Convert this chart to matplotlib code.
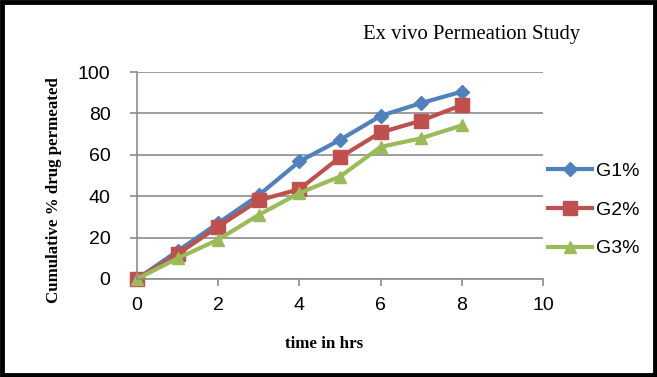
import matplotlib.pyplot as plt
from matplotlib.ticker import MultipleLocator

# data
hours = [0, 1, 2, 3, 4, 5, 6, 7, 8]
g1 = [0, 13.5, 27, 40.5, 56.8, 67.2, 78.8, 85, 90.5]
g2 = [0, 12, 25.3, 38, 43.4, 58.8, 70.8, 76.5, 84]
g3 = [0, 10, 19, 31, 41.5, 49.5, 63.8, 68, 74.2]
labels = ["G1%", "G2%", "G3%"]

colors = ['#4F81BD', '#C0504D', '#9BBB59']
markers = ['D', 's', '^']
msizes = [7, 10, 9]

fig = plt.figure(figsize=(6.57, 3.77), dpi=100)
ax = fig.add_axes([0.2085, 0.26, 0.618, 0.549])

for y, lab, c, m, ms in zip([g1, g2, g3], labels, colors, markers, msizes):
    ax.plot(hours, y, label=lab, color=c, linewidth=3, marker=m, markersize=ms,
            clip_on=False)

ax.set_xlim(0, 10)
ax.set_ylim(0, 100)
ax.xaxis.set_major_locator(MultipleLocator(2))
ax.yaxis.set_major_locator(MultipleLocator(20))
ax.grid(axis='y', color='#8c8c8c', linewidth=1.2)
ax.set_axisbelow(True)
for s in ['top', 'right']:
    ax.spines[s].set_visible(False)
for s in ['left', 'bottom']:
    ax.spines[s].set_color('#8c8c8c')
    ax.spines[s].set_linewidth(1.2)
ax.tick_params(axis='x', direction='out', length=5, color='#8c8c8c', width=1.2,
               labelsize=14, pad=8)
ax.tick_params(axis='y', direction='out', length=5, color='#8c8c8c', width=1.2,
               labelsize=14, pad=14)
for t in ax.get_xticklabels() + ax.get_yticklabels():
    t.set_fontfamily('Liberation Sans')

fig.text(0.493, 0.0875, 'time in hrs', fontfamily='Liberation Serif',
         fontweight='bold', fontsize=12.2, ha='center', va='center')
fig.text(0.082, 0.496, 'Cumulative % drug permeated', fontfamily='Liberation Serif',
         fontweight='bold', fontsize=12.2, ha='center', va='center', rotation=90)
fig.text(0.717, 0.908, 'Ex vivo Permeation Study', fontfamily='Liberation Serif',
         fontsize=14.9, ha='center', va='center')

leg = ax.legend(loc='center left', bbox_to_anchor=(548 / 657, 0.443),
                bbox_transform=fig.transFigure, frameon=False,
                prop={'family': 'Liberation Sans', 'size': 14},
                handlelength=2.27, labelspacing=1.08, handletextpad=0.2,
                borderaxespad=0, borderpad=0)

# black frame around the whole picture
fig.patches.append(plt.Rectangle((0.003, 0.004), 0.994, 0.992, transform=fig.transFigure,
                                 fill=False, edgecolor='black', linewidth=3.5))

fig.savefig('out.png', dpi=100)
